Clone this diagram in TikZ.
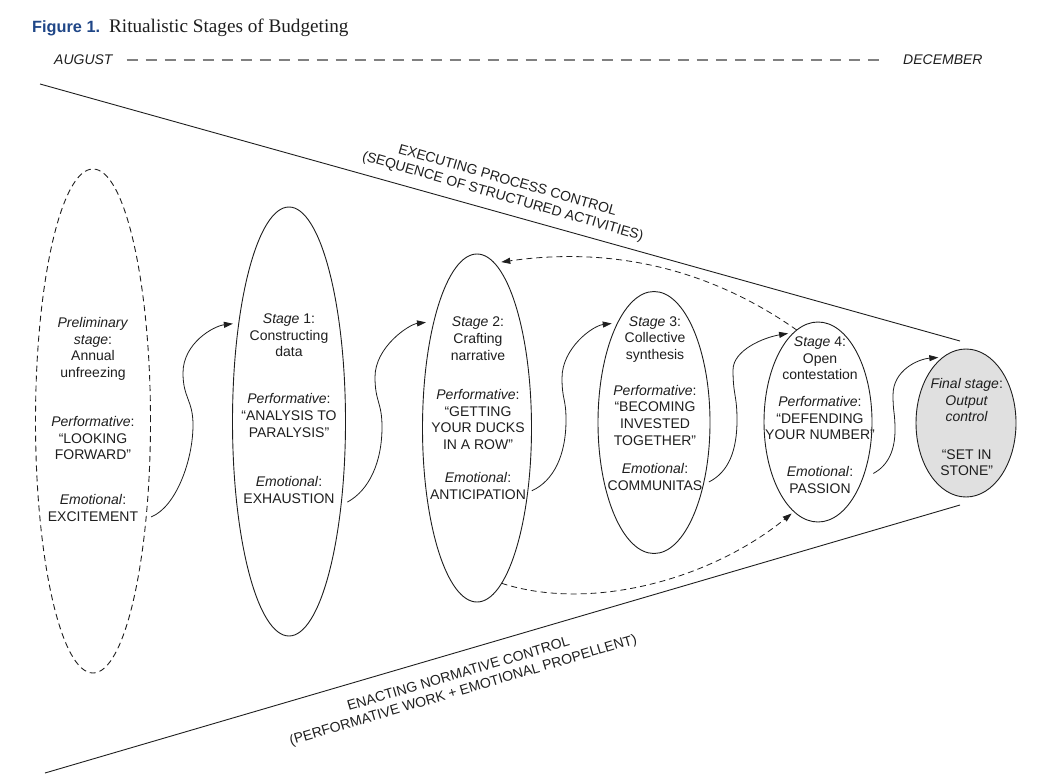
\documentclass[tikz,border=0pt]{standalone}
\usepackage{fontspec}
\setmainfont{Liberation Sans}
\newfontfamily\serifttl{Liberation Serif}
\usetikzlibrary{shapes.geometric,arrows.meta}
\definecolor{figblue}{RGB}{31,70,135}
\definecolor{ink}{RGB}{30,30,30}
\tikzset{
  stage/.style={ellipse, draw=ink, line width=0.9pt, inner sep=0pt, outer sep=0pt},
  txt/.style={align=center, font=\fontsize{14}{16.7}\selectfont, text=ink, inner sep=0pt},
  lbl/.style={align=center, font=\fontsize{14}{16.7}\selectfont, text=ink, inner sep=0pt},
  arr/.style={draw=ink, line width=0.8pt, -{Triangle[length=9pt,width=6pt]}},
  darr/.style={arr, dash pattern=on 6pt off 4pt},
  bound/.style={draw=ink, line width=0.9pt},
  timeline/.style={draw=black!50, line width=1.3pt, dash pattern=on 11pt off 8pt}
}
\begin{document}
\begin{tikzpicture}[x=1pt,y=-1pt]
\useasboundingbox (0,0) rectangle (1048,781);

% title
\node[anchor=base west, inner sep=0pt] (title) at (32,33)
  {{\fontsize{16.3}{19}\selectfont\bfseries\color{figblue}Figure 1.}\hspace{9pt}{\serifttl\fontsize{19.2}{22}\selectfont\color{ink}Ritualistic Stages of Budgeting}};

% timeline
\node[lbl, anchor=west] (aug) at (54,60) {\itshape AUGUST};
\node[lbl, anchor=west] (dec) at (903,60) {\itshape DECEMBER};
\draw[timeline] ([xshift=14pt]aug.east) -- ([xshift=-17pt]dec.west);

% funnel boundaries
\coordinate (topL) at (40,84);
\coordinate (topR) at (960,341);
\coordinate (botL) at (45,773);
\coordinate (botR) at (960,505);
\draw[bound] (topL) -- (topR);
\draw[bound] (botL) -- (botR);

\node[lbl, rotate=-16] (proc) at (505,189) {EXECUTING PROCESS CONTROL\\(SEQUENCE OF STRUCTURED ACTIVITIES)};
\node[lbl, rotate=16.4] (norm) at (461,683) {ENACTING NORMATIVE CONTROL\\(PERFORMATIVE WORK + EMOTIONAL PROPELLENT)};

% stage ellipses
\node[stage, dash pattern=on 6pt off 4pt, minimum width=115pt, minimum height=504pt] (pre) at (93,421) {};
\node[stage, minimum width=113pt, minimum height=429pt] (s1) at (289,421.5) {};
\node[stage, minimum width=109pt, minimum height=348pt] (s2) at (477,428) {};
\node[stage, minimum width=112pt, minimum height=262pt] (s3) at (654,422.5) {};
\node[stage, minimum width=108pt, minimum height=200pt] (s4) at (818,422) {};
\node[stage, fill=black!12, minimum width=100pt, minimum height=148pt] (fin) at (966,423) {};

% stage texts
\node[txt] (pretext) at (93,419.5) {\textit{Preliminary}\\\textit{stage}:\\Annual\\unfreezing\\[32pt]\textit{Performative}:\\“LOOKING\\FORWARD”\\[28.3pt]\textit{Emotional}:\\EXCITEMENT};
\node[txt] (s1text) at (289,408.7) {\textit{Stage} 1:\\Constructing\\data\\[30pt]\textit{Performative}:\\“ANALYSIS TO\\PARALYSIS”\\[33pt]\textit{Emotional}:\\EXHAUSTION};
\node[txt] (s2text) at (478,408.3) {\textit{Stage} 2:\\Crafting\\narrative\\[22.6pt]\textit{Performative}:\\“GETTING\\YOUR DUCKS\\IN A ROW”\\[16.6pt]\textit{Emotional}:\\ANTICIPATION};
\node[txt] (s3text) at (655,403.3) {\textit{Stage} 3:\\Collective\\synthesis\\[19pt]\textit{Performative}:\\“BECOMING\\INVESTED\\TOGETHER”\\[11.6pt]\textit{Emotional}:\\COMMUNITAS};
\node[txt] (s4text) at (820,415) {\textit{Stage} 4:\\Open\\contestation\\[10pt]\textit{Performative}:\\“DEFENDING\\YOUR NUMBER”\\[20pt]\textit{Emotional}:\\PASSION};
\node[txt] (fintext) at (966.7,427) {\textit{Final stage}:\\\textit{Output}\\\textit{control}\\[20.6pt]“SET IN\\STONE”};

% forward arrows
\draw[arr, shorten >=6pt] ([xshift=5pt]pre.-61) .. controls +(25,-10) and +(0,35) .. (193,425)
  .. controls +(0,-25) and +(0,25) .. (183,373) .. controls +(0,-30) and +(-25,3) .. (s1.117);
\draw[arr, shorten >=8pt] ([xshift=6pt]s1.-57) .. controls +(22,-12) and +(0,35) .. (382,427)
  .. controls +(0,-25) and +(0,25) .. (375,377) .. controls +(0,-30) and +(-25,3) .. (s2.112);
\draw[arr, shorten >=6pt] ([xshift=4pt]s2.-51) .. controls +(22,-10) and +(0,35) .. (566,420)
  .. controls +(0,-22) and +(0,22) .. (562,378) .. controls +(0,-30) and +(-25,3) .. (s3.110);
\draw[arr, shorten >=6pt] ([xshift=5pt]s3.-50) .. controls +(20,-10) and +(0,30) .. (737,420)
  .. controls +(0,-25) and +(0,25) .. (733,370) .. controls +(0,-20) and +(-30,5) .. (s4.105);
\draw[arr, shorten >=5pt] ([xshift=9pt]s4.-48) .. controls +(15,-8) and +(0,20) .. (895,430)
  .. controls +(0,-18) and +(0,18) .. (893,395) .. controls +(0,-25) and +(-25,2) .. (fin.109);

% feedback / feed-forward dashed arrows
\draw[darr, shorten >=7pt] (s4.103) .. controls (700,262) and (600,248) .. (s2.84);
\draw[darr, shorten >=3pt] (s2.-81) .. controls (590,612) and (710,580) .. (s4.-105);

\end{tikzpicture}
\end{document}
